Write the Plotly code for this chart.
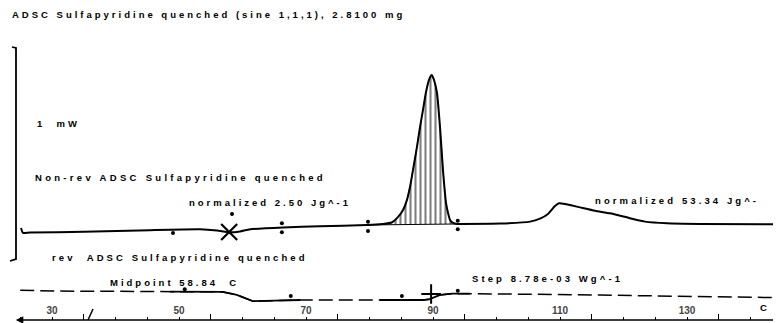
import numpy as np
import plotly.graph_objects as go

# ---------------- data ----------------
# Non-reversing heat flow curve (temperature in C, heat flow in mW, offset display)
nonrev_temp = [25.12, 25.43, 26.5, 35.0, 45.4, 53.3, 56.0, 58.0, 59.6, 61.2, 66.4, 72.2,
               79.6, 82.1, 83.5, 84.5, 85.3, 85.9, 86.4, 86.85, 87.5, 87.95, 88.43, 88.9,
               89.37, 89.79, 90.16, 90.63, 91.1, 91.57, 92.05, 92.36, 92.68, 93.15, 93.78,
               94.25, 100.55, 105.28, 106.85, 108.11, 109.21, 109.84, 110.79, 113.15,
               115.51, 117.87, 121.02, 123.39, 126.85, 132.05, 144.8]
nonrev_flow = [0.014, -0.009, -0.007, -0.004, 0.004, 0.008, 0.002, -0.006, -0.002, 0.008,
               0.017, 0.022, 0.028, 0.033, 0.040, 0.066, 0.100, 0.146, 0.210, 0.286, 0.400,
               0.488, 0.570, 0.653, 0.710, 0.732, 0.709, 0.648, 0.488, 0.286, 0.131, 0.085,
               0.052, 0.038, 0.033, 0.033, 0.035, 0.044, 0.058, 0.080, 0.117, 0.130, 0.127,
               0.111, 0.095, 0.083, 0.060, 0.044, 0.036, 0.033, 0.031]

# Reversing heat flow curve
rev_temp = [25.0, 30.0, 40.0, 48.6, 53.0, 56.9, 59.1, 61.6, 65.0, 69.1, 75.0, 81.6, 88.4,
            89.5, 91.1, 93.0, 95.8, 105.0, 116.3, 130.0, 144.8]
rev_flow = [-0.278, -0.282, -0.283, -0.285, -0.286, -0.286, -0.300, -0.329, -0.327, -0.324,
            -0.324, -0.324, -0.324, -0.320, -0.300, -0.294, -0.294, -0.297, -0.301, -0.306,
            -0.313]
rev_solid_ranges = [(48.6, 69.1), (81.6, 95.8)]

# analysis markers
nonrev_dot_temp = [49.05, 58.35]
nonrev_dot_flow = [-0.009, 0.080]
glass_x_temp = [57.9]
glass_x_flow = [-0.005]
limit_temp = [66.2, 66.2, 79.76, 79.76, 93.9, 93.9]
limit_flow = [0.036, -0.006, 0.044, 0.000, 0.048, 0.008]
peak_limits = (79.76, 93.9)
rev_dot_temp = [50.9, 67.6, 85.1, 93.9]
rev_dot_flow = [-0.274, -0.305, -0.305, -0.280]
step_temp = [89.7]
step_flow = [-0.296]

# axis ticks
tick_values = list(range(25, 150, 5))
tick_label_map = {30: "30", 50: "50", 70: "70", 90: "90", 110: "110", 130: "130"}
major_tick_values = [35, 55, 75, 95, 115, 135]

title_text = "ADSC Sulfapyridine quenched (sine 1,1,1), 2.8100 mg"
scale_text = "1  mW"
nonrev_label = "Non-rev ADSC Sulfapyridine quenched"
rev_label = "rev  ADSC Sulfapyridine quenched"
enth1_text = "normalized 2.50 Jg^-1"
enth2_text = "normalized 53.34 Jg^-"
midpoint_text = "Midpoint 58.84  C"
step_text = "Step 8.78e-03 Wg^-1"
unit_text = "C"

# ---------------- figure ----------------
OFF = 8                      # page body margin of the html page
W, H = 781 - OFF, 323 - OFF
X_RANGE = [23.07, 144.80]
Y_RANGE = [-0.4319, 1.0469]
FONT = "Liberation Sans"


def px(xp, yp):
    """reference-image pixel -> paper coordinates"""
    return (xp - OFF) / W, 1 - (yp - OFF) / H


def spaced(t, sp=3.0):
    return f'<span style="letter-spacing:{sp}px">{t}</span>'


fig = go.Figure()

T = np.array(nonrev_temp)
F = np.array(nonrev_flow)
lo, hi = peak_limits
base_y = np.interp([lo, hi], T, F)
mask = (T > lo) & (T < hi)
fill_x = np.concatenate([[lo], T[mask], [hi]])
fill_y = np.concatenate([[base_y[0]], F[mask], [base_y[1]]])

fig.add_trace(go.Scatter(x=[lo, hi], y=base_y, mode="lines",
                         line=dict(color="black", width=1), showlegend=False))
fig.add_trace(go.Scatter(x=fill_x, y=fill_y, mode="lines", line=dict(color="black", width=0.5),
                         fill="tonexty", fillcolor="white",
                         fillpattern=dict(shape="|", size=5, solidity=0.42,
                                          fgcolor="black", bgcolor="white"),
                         showlegend=False))
fig.add_trace(go.Scatter(x=nonrev_temp, y=nonrev_flow, mode="lines",
                         line=dict(color="black", width=2, shape="spline", smoothing=0.5),
                         showlegend=False))

# reversing curve: dashed everywhere, solid inside analysis ranges
fig.add_trace(go.Scatter(x=rev_temp, y=rev_flow, mode="lines",
                         line=dict(color="black", width=1.5, dash="14px,6px"),
                         showlegend=False))
RT = np.array(rev_temp)
RF = np.array(rev_flow)
for a, b in rev_solid_ranges:
    m = (RT >= a) & (RT <= b)
    fig.add_trace(go.Scatter(x=RT[m], y=RF[m], mode="lines",
                             line=dict(color="black", width=1.8), showlegend=False))

# markers
fig.add_trace(go.Scatter(x=nonrev_dot_temp + rev_dot_temp, y=nonrev_dot_flow + rev_dot_flow,
                         mode="markers", marker=dict(symbol="circle", size=4, color="black"),
                         showlegend=False))
fig.add_trace(go.Scatter(x=limit_temp, y=limit_flow, mode="markers",
                         marker=dict(symbol="circle", size=4, color="black"), showlegend=False))
fig.add_trace(go.Scatter(x=glass_x_temp, y=glass_x_flow, mode="markers",
                         marker=dict(symbol="x-thin", size=16,
                                     line=dict(color="black", width=2.2)), showlegend=False))
fig.add_trace(go.Scatter(x=step_temp, y=step_flow, mode="markers",
                         marker=dict(symbol="cross-thin", size=14,
                                     line=dict(color="black", width=2)), showlegend=False))

# invisible trace for second (tall tick) axis
fig.add_trace(go.Scatter(x=[X_RANGE[0]], y=[Y_RANGE[0]], xaxis="x2", mode="markers",
                         marker=dict(opacity=0), showlegend=False, hoverinfo="skip"))

tick_text = [tick_label_map.get(v, "") for v in tick_values]
axis_pos = (323 - 320) / H

fig.update_layout(
    width=W, height=H, autosize=False,
    margin=dict(l=0, r=0, t=0, b=0, pad=0),
    paper_bgcolor="white", plot_bgcolor="white",
    font=dict(family=FONT, size=10, color="black"),
    xaxis=dict(range=X_RANGE, anchor="free", position=axis_pos, showgrid=False,
               zeroline=False, showline=False, tickmode="array", tickvals=tick_values,
               ticktext=tick_text, ticks="inside", ticklen=3, tickwidth=1.2,
               tickcolor="black", ticklabelposition="inside",
               tickfont=dict(family=FONT, size=10, weight="bold")),
    xaxis2=dict(range=X_RANGE, overlaying="x", anchor="free", position=axis_pos,
                side="bottom", showgrid=False, zeroline=False, showline=False,
                tickmode="array", tickvals=major_tick_values, ticks="inside", ticklen=6,
                tickwidth=1.2, tickcolor="black", showticklabels=False),
    yaxis=dict(range=Y_RANGE, visible=False, showgrid=False, zeroline=False),
)

# axis line with arrow at left
y_axis_line = Y_RANGE[0] + (Y_RANGE[1] - Y_RANGE[0]) * axis_pos
fig.add_annotation(x=24.3, y=y_axis_line, ax=X_RANGE[1], ay=y_axis_line,
                   xref="x", yref="y", axref="x", ayref="y", text="", showarrow=True,
                   arrowhead=2, arrowsize=1, arrowwidth=1.5, arrowcolor="black")

# axis break slash
x0, y0 = px(88, 320)
x1, y1 = px(93, 309)
fig.add_shape(type="line", xref="paper", yref="paper", x0=x0, y0=y0, x1=x1, y1=y1,
              line=dict(color="black", width=1.5))

# scale bracket
pts = [px(12, 47), px(16, 48), px(16, 259), px(10, 261)]
path = "M " + " L ".join(f"{a:.5f},{b:.5f}" for a, b in pts)
fig.add_shape(type="path", xref="paper", yref="paper", path=path,
              line=dict(color="black", width=1.8))

labels = [
    (title_text, 10, 14, 3.0),
    (scale_text, 35, 123, 3.0),
    (nonrev_label, 33, 177, 3.3),
    (enth1_text, 187, 202, 3.0),
    (enth2_text, 593, 200, 3.1),
    (rev_label, 50, 257, 3.1),
    (midpoint_text, 108, 282, 3.0),
    (step_text, 470, 278, 3.1),
    (unit_text, 758, 307, 3.0),
]
for t, xp, yp, sp in labels:
    ax_, ay_ = px(xp, yp)
    fig.add_annotation(x=ax_, y=ay_, xref="paper", yref="paper", text=spaced(t, sp),
                       showarrow=False, xanchor="left", yanchor="middle",
                       font=dict(family=FONT, size=9.5, color="black", weight="bold"))

fig.write_html("out.html")
